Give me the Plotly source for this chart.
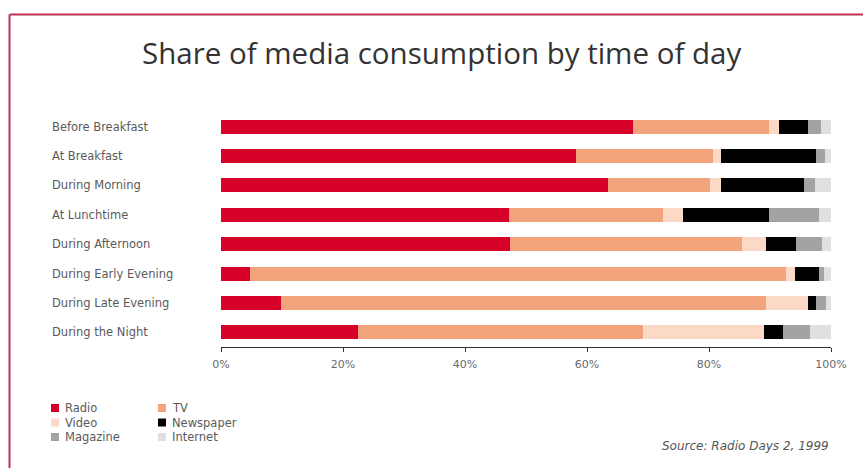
import plotly.graph_objects as go

categories = ["Before Breakfast", "At Breakfast", "During Morning", "At Lunchtime",
              "During Afternoon", "During Early Evening", "During Late Evening", "During the Night"]
radio     = [67.5, 58.2, 63.5, 47.2, 47.4, 4.7, 9.9, 22.4]
tv        = [22.3, 22.4, 16.6, 25.3, 38.0, 88.0, 79.4, 46.8]
video     = [1.7, 1.3, 1.8, 3.2, 3.9, 1.4, 7.0, 19.8]
newspaper = [4.8, 15.7, 13.7, 14.1, 4.9, 4.0, 1.3, 3.2]
magazine  = [2.0, 1.4, 1.8, 8.3, 4.3, 0.7, 1.5, 4.4]
internet  = [1.7, 1.0, 2.6, 1.9, 1.5, 1.2, 0.9, 3.4]

series_names = ["Radio", "TV", "Video", "Newspaper", "Magazine", "Internet"]
series_vals = [radio, tv, video, newspaper, magazine, internet]
colors = ["#d7002b", "#f3a47d", "#fbd9c6", "#000000", "#a3a3a3", "#e0e0e0"]
tick_vals = [0, 20, 40, 60, 80, 100]
tick_text = ["0%", "20%", "40%", "60%", "80%", "100%"]
title_text = "Share of media consumption by time of day"
source_text = "Source: Radio Days 2, 1999"

W, H = 863, 468
L, R, T, B = 221, 831, 112, 347

def xp(px):
    return (px - L) / (R - L)

def yp(py):
    return (B - py) / (B - T)

fig = go.Figure()
for name, vals, c in zip(series_names, series_vals, colors):
    fig.add_trace(go.Bar(y=categories, x=vals, name=name, orientation="h",
                         marker=dict(color=c, line=dict(width=0)), showlegend=False))

title_font = "Open Sans, Noto Sans, sans-serif"
small_font = "DejaVu Sans, sans-serif"
annotations = []
for cat in categories:
    annotations.append(dict(x=xp(50), xref="paper", y=cat, yref="y", text=cat,
                            showarrow=False, xanchor="left", yanchor="middle",
                            font=dict(size=11.5, color="#5a5a5a", family=small_font)))

annotations.append(dict(x=xp(441), xref="paper", y=yp(53), yref="paper", text=title_text,
                        showarrow=False, xanchor="center", yanchor="middle",
                        font=dict(size=29.5, color="#333333", family=title_font)))
annotations.append(dict(x=xp(831), xref="paper", y=yp(446), yref="paper",
                        text="<i>" + source_text + "</i>",
                        showarrow=False, xanchor="right", yanchor="middle",
                        font=dict(size=12, color="#555555", family=small_font)))

shapes = []
legend_pos = [(51, 408), (158, 408), (51, 422.5), (158, 422.5), (51, 437), (158, 437)]
for name, c, (sx, sy) in zip(series_names, colors, legend_pos):
    shapes.append(dict(type="rect", xref="paper", yref="paper",
                       x0=xp(sx), x1=xp(sx + 8), y0=yp(sy + 4), y1=yp(sy - 4),
                       fillcolor=c, line=dict(width=0)))
    annotations.append(dict(x=xp(sx + 12), xref="paper", y=yp(sy), yref="paper", text=name,
                            showarrow=False, xanchor="left", yanchor="middle",
                            font=dict(size=11.5, color="#5a5a5a", family=small_font)))

border = "#c23050"
shapes.append(dict(type="line", xref="paper", yref="paper", x0=xp(9.5), x1=xp(880),
                   y0=yp(14.5), y1=yp(14.5), line=dict(color=border, width=2)))
shapes.append(dict(type="line", xref="paper", yref="paper", x0=xp(9.5), x1=xp(9.5),
                   y0=yp(14.5), y1=yp(480), line=dict(color=border, width=2)))

fig.update_layout(
    width=W, height=H,
    margin=dict(l=L, r=W - R, t=T, b=H - B),
    barmode="stack", bargap=0.52,
    plot_bgcolor="white", paper_bgcolor="white",
    xaxis=dict(range=[0, 100], tickvals=tick_vals, ticktext=tick_text,
               showgrid=False, zeroline=False, showline=True, linecolor="#333333",
               linewidth=1, ticks="outside", ticklen=4, tickcolor="#333333",
               ticklabelstandoff=3,
               tickfont=dict(size=11, color="#6a6a6a", family=small_font), fixedrange=True),
    yaxis=dict(categoryorder="array", categoryarray=categories, autorange="reversed",
               showticklabels=False, showgrid=False, zeroline=False, showline=False,
               fixedrange=True),
    annotations=annotations, shapes=shapes,
    showlegend=False,
)

fig.write_html("out.html", config={"displayModeBar": False})
